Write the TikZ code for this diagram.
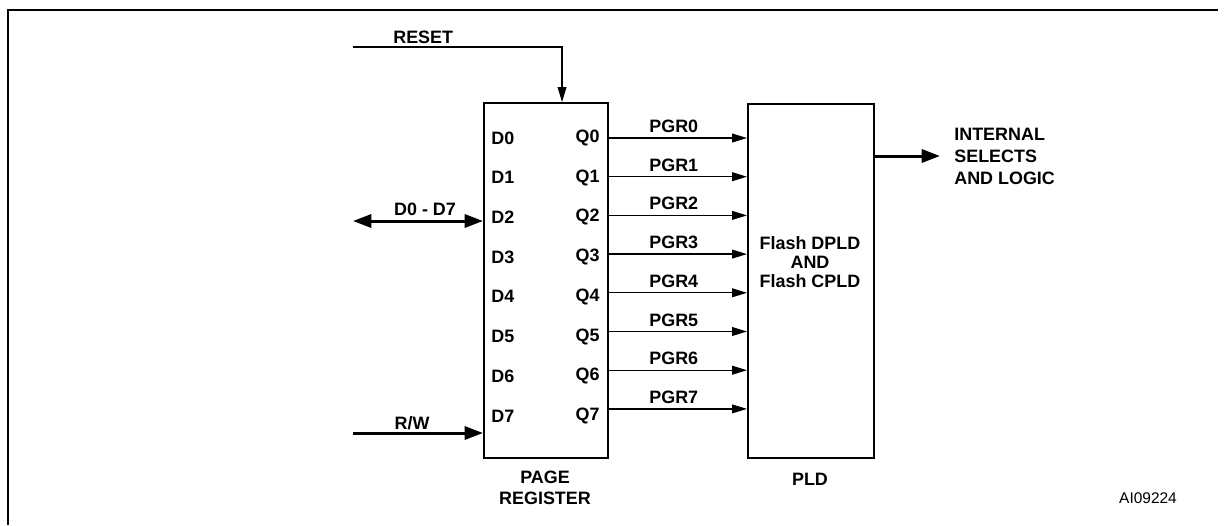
\documentclass[tikz,border=0pt]{standalone}
\usepackage{fontspec}
\setmainfont{Liberation Sans}
\usetikzlibrary{arrows.meta}

\begin{document}
\begin{tikzpicture}[x=0.02cm,y=-0.02cm,
	lbl/.style={font=\bfseries\fontsize{10.2}{11.5}\selectfont,inner sep=0pt},
	blk/.style={draw,line width=1.2pt,inner sep=0pt,anchor=north west},
	sig/.style={line width=0.75pt,-{Triangle[length=8.5pt,width=5pt]}},
	bus/.style={line width=1.7pt,-{Triangle[length=10.5pt,width=7.5pt]}}]
	\useasboundingbox (0,0) rectangle (1227,525);
	\draw[line width=1.1pt] (8,525) -- (8,10) -- (1218,10);

	\node[blk,minimum width=2.48cm,minimum height=7.1cm] (reg) at (483,102) {};
	\node[blk,minimum width=2.52cm,minimum height=7.08cm] (pld) at (747,103) {};

	\coordinate (rst) at (353,47);
	\draw[sig] (rst) -| ([xshift=0.32cm]reg.north);
	\node[lbl,anchor=west] (rstlbl) at (393,37) {RESET};

	\foreach \i in {0,...,7} {
		\pgfmathsetmacro\yt{138+39.7*\i}
		\pgfmathsetmacro\yl{138+38.7*\i}
		\node[lbl,anchor=west] (d\i) at (491,\yt) {D\i};
		\node[lbl,anchor=east] (q\i) at (600,\yt) {Q\i};
		\draw[sig] (reg.east |- 0,\yl) -- (pld.west |- 0,\yl);
		\node[lbl,anchor=base west] (pgr\i) at (649,\yl-5.5) {PGR\i};
	}

	\coordinate (busl) at (353,221);
	\draw[bus,{Triangle[length=10.5pt,width=7.5pt]}-{Triangle[length=10.5pt,width=7.5pt]}] (busl) -- (reg.west |- busl);
	\node[lbl] (buslbl) at (425,209) {D0 - D7};

	\coordinate (rw) at (353,433);
	\draw[bus] (rw) -- (reg.west |- rw);
	\node[lbl] (rwlbl) at (412,423) {R/W};

	\coordinate (outend) at (940,156);
	\draw[bus] (pld.east |- outend) -- (outend);
	\node[lbl,anchor=north west,align=left,font=\bfseries\fontsize{10.2}{12.5}\selectfont] (outlbl) at (954,127.5) {INTERNAL\\SELECTS\\AND LOGIC};

	\node[lbl,align=center,font=\bfseries\fontsize{10.2}{11}\selectfont] (pldtxt) at (810,262) {Flash DPLD\\AND\\Flash CPLD};
	\node[lbl] (pldlbl) at (810,479) {PLD};
	\node[lbl,align=center,font=\bfseries\fontsize{10.2}{12}\selectfont] (reglbl) at (545,487.5) {PAGE\\REGISTER};

	\node[inner sep=0pt,font=\fontsize{8.8}{10}\selectfont] (code) at (1148,498) {AI09224};
\end{tikzpicture}
\end{document}
